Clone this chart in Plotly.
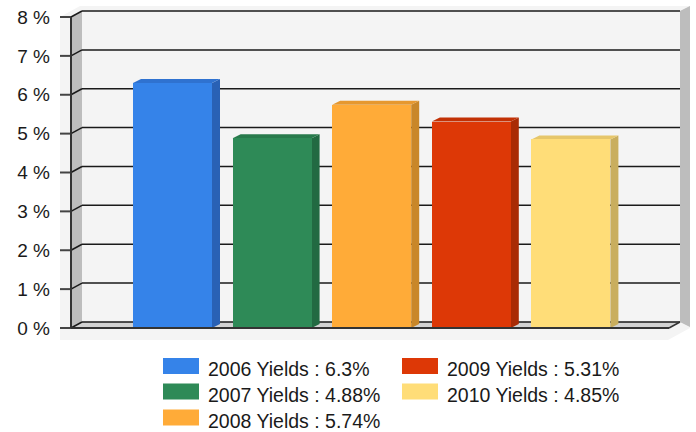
import plotly.graph_objects as go

# ---- data ----
years = ["2006", "2007", "2008", "2009", "2010"]
yields = [6.3, 4.88, 5.74, 5.31, 4.85]
front_colors = ["#3583E9", "#2E8A57", "#FFAB38", "#DD3806", "#FFDD78"]
side_colors = ["#2961B5", "#226A42", "#C98729", "#A92B05", "#C9AE5E"]
top_colors = ["#2F72D0", "#287A4C", "#E6982F", "#C23105", "#E6C66A"]
y_ticks = [0, 1, 2, 3, 4, 5, 6, 7, 8]
y_tick_labels = [f"{v} %" for v in y_ticks]
legend_labels = [f"{y} Yields : {v}%" for y, v in zip(years, yields)]

# ---- geometry (pixel scale helpers) ----
W, H = 696, 432
ML, MR, MT, MB = 60, 5, 6, 92
PX_PER_X = 99.6       # px per category
PX_PER_Y = 38.875     # px per 1 %
X0_PX = 172.5         # px of first category centre
Y0_PX = 328           # px of 0 %


def X(px):
    return (px - X0_PX) / PX_PER_X


def Y(py):
    return (Y0_PX - py) / PX_PER_Y


xr = [X(ML), X(W - MR)]
yr = [Y(H - MB), Y(MT)]

WALL_DX = 11 / PX_PER_X
WALL_DY = 6 / PX_PER_Y
BAR_DX = 8 / PX_PER_X
BAR_DY = 4 / PX_PER_Y
BAR_W = 79 / PX_PER_X

ax_left = X(71)          # front left edge of the chart floor
ax_right = X(669)        # front right edge of the floor
y_max = y_ticks[-1]


def path(pts):
    return "M " + " L ".join(f"{x},{y}" for x, y in pts) + " Z"


shapes = []
# light panel
shapes.append(dict(type="path", xref="x", yref="y", layer="below",
                   path=path([(X(60), Y(340)), (X(60), Y(17)), (X(80), Y(6)),
                              (X(690), Y(6)), (X(690), Y(328)), (X(668), Y(340))]),
                   fillcolor="#F4F4F4", line=dict(width=0)))
# right wall edge
shapes.append(dict(type="path", xref="x", yref="y", layer="below",
                   path=path([(ax_right + WALL_DX, y_max + WALL_DY), (X(690), Y(6)),
                              (X(690), Y(327)), (ax_right + WALL_DX, WALL_DY)]),
                   fillcolor="#BDBDBD", line=dict(width=0)))
# left wall
shapes.append(dict(type="path", xref="x", yref="y", layer="below",
                   path=path([(ax_left, 0), (ax_left, y_max), (ax_left + WALL_DX, y_max + WALL_DY),
                              (ax_left + WALL_DX, WALL_DY)]),
                   fillcolor="#BDBDBD", line=dict(width=0)))
# floor
shapes.append(dict(type="path", xref="x", yref="y", layer="below",
                   path=path([(ax_left, 0), (ax_left + WALL_DX, WALL_DY),
                              (ax_right + WALL_DX, WALL_DY), (ax_right, 0)]),
                   fillcolor="#D2D2D2", line=dict(width=0)))
# gridlines (back wall + left wall diagonal) and tick marks
for v in y_ticks:
    shapes.append(dict(type="line", xref="x", yref="y", layer="below",
                       x0=ax_left + WALL_DX, x1=ax_right + WALL_DX, y0=v + WALL_DY, y1=v + WALL_DY,
                       line=dict(color="#1A1A1A", width=1.5)))
    shapes.append(dict(type="line", xref="x", yref="y", layer="below",
                       x0=ax_left, x1=ax_left + WALL_DX, y0=v, y1=v + WALL_DY,
                       line=dict(color="#1A1A1A", width=1.5)))
    shapes.append(dict(type="line", xref="x", yref="y", layer="above",
                       x0=X(53), x1=ax_left, y0=v, y1=v,
                       line=dict(color="#444444", width=2)))
# left axis line
shapes.append(dict(type="line", xref="x", yref="y", layer="above",
                   x0=ax_left, x1=ax_left, y0=0, y1=y_max,
                   line=dict(color="#333333", width=2)))
# floor front edge
shapes.append(dict(type="line", xref="x", yref="y", layer="above",
                   x0=ax_left, x1=ax_right, y0=0, y1=0,
                   line=dict(color="#333333", width=2)))
shapes.append(dict(type="line", xref="x", yref="y", layer="above",
                   x0=ax_right, x1=ax_right + WALL_DX, y0=0, y1=WALL_DY,
                   line=dict(color="#333333", width=1.5)))

# bar side and top faces
for i, v in enumerate(yields):
    xl, xrgt = i - BAR_W / 2, i + BAR_W / 2
    shapes.append(dict(type="path", xref="x", yref="y", layer="below",
                       path=path([(xrgt, 0), (xrgt + BAR_DX, BAR_DY), (xrgt + BAR_DX, v + BAR_DY), (xrgt, v)]),
                       fillcolor=side_colors[i], line=dict(width=0)))
    shapes.append(dict(type="path", xref="x", yref="y", layer="below",
                       path=path([(xl, v), (xl + BAR_DX, v + BAR_DY), (xrgt + BAR_DX, v + BAR_DY), (xrgt, v)]),
                       fillcolor=top_colors[i], line=dict(width=0)))

fig = go.Figure()
for i, v in enumerate(yields):
    fig.add_trace(go.Bar(x=[i], y=[v], width=BAR_W, marker=dict(color=front_colors[i], line=dict(width=0)),
                         name=legend_labels[i], showlegend=False, hoverinfo="skip"))

# manual legend (column-major, 3 rows)
annotations = []
col_x = [163, 402]
row_y = [366, 391.5, 417.5]
for i, lab in enumerate(legend_labels):
    c, r = divmod(i, 3)
    sx = col_x[c]
    sy = row_y[r]
    shapes.append(dict(type="rect", xref="paper", yref="paper", layer="above",
                       x0=(sx - ML) / (W - ML - MR), x1=(sx + 36 - ML) / (W - ML - MR),
                       y0=(H - MB - (sy + 8)) / (H - MT - MB), y1=(H - MB - (sy - 8)) / (H - MT - MB),
                       fillcolor=front_colors[i], line=dict(width=0)))
    annotations.append(dict(xref="paper", yref="paper", showarrow=False,
                            x=(sx + 43 - ML) / (W - ML - MR), y=(H - MB - (sy + 3)) / (H - MT - MB),
                            xanchor="left", yanchor="middle", text=lab,
                            font=dict(family="Liberation Sans, Arial", size=19.5, color="#1A1A1A")))

fig.update_layout(
    width=W, height=H,
    margin=dict(l=ML, r=MR, t=MT, b=MB),
    paper_bgcolor="white", plot_bgcolor="white",
    shapes=shapes, annotations=annotations,
    bargap=0, showlegend=False,
    xaxis=dict(range=xr, visible=False, fixedrange=True),
    yaxis=dict(range=yr, tickvals=y_ticks, ticktext=y_tick_labels, showgrid=False, zeroline=False,
               showline=False, ticks="", ticklabelstandoff=9,
               tickfont=dict(family="Liberation Sans, Arial", size=19, color="#1A1A1A"), fixedrange=True),
)

fig.write_html("out.html", config={"displayModeBar": False},
               post_script="document.body.style.margin='0';document.body.style.overflow='hidden';")
